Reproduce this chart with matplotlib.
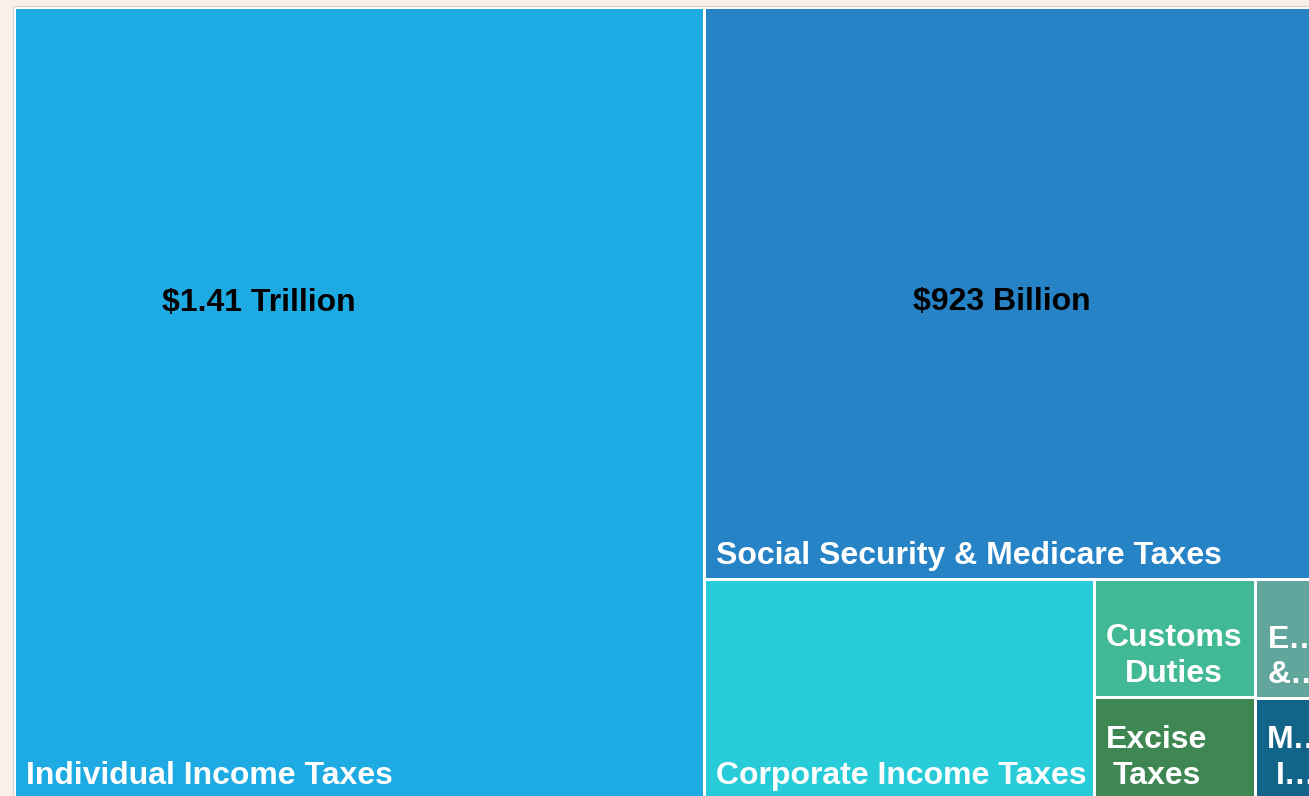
import matplotlib
matplotlib.use("Agg")
import matplotlib.pyplot as plt
from matplotlib.patches import Rectangle

# federal revenue by source, billions of dollars
sources = ["Individual Income Taxes", "Social Security & Medicare Taxes",
           "Corporate Income Taxes", "Customs Duties", "Excise Taxes",
           "Estate & Gift Taxes", "Miscellaneous Income"]
amounts = [1410, 923, 221, 49, 42.5, 22.5, 19]
# text drawn in each cell (small cells are wrapped / cut off)
cell_text = ["Individual Income Taxes", "Social Security & Medicare Taxes",
             "Corporate Income Taxes", "Customs\nDuties", "Excise\nTaxes",
             "E…\n&…", "M…\nI…"]
colors = ["#1eabe3", "#2683c6", "#28ccd8", "#42b995", "#3e8752", "#62a59d", "#126589"]

PHI = (1 + 5 ** 0.5) / 2


def squarify(values, x0, y0, x1, y1, ratio=PHI):
    # same row logic as d3.treemapSquarify
    rects = []
    total = float(sum(values))
    i0 = 0
    n = len(values)
    while i0 < n:
        dx, dy = x1 - x0, y1 - y0
        s = values[i0]
        i1 = i0 + 1
        mn = mx = s
        alpha = max(dy / dx, dx / dy) / (total * ratio)
        beta = s * s * alpha
        best = max(mx / beta, beta / mn)
        while i1 < n:
            v = values[i1]
            s2 = s + v
            mn2, mx2 = min(mn, v), max(mx, v)
            beta = s2 * s2 * alpha
            r = max(mx2 / beta, beta / mn2)
            if r > best:
                break
            s, mn, mx, best = s2, mn2, mx2, r
            i1 += 1
        row = values[i0:i1]
        if dx < dy:
            yb = y0 + dy * s / total
            xc = x0
            for v in row:
                w = dx * v / s
                rects.append((xc, y0, w, yb - y0))
                xc += w
            y0 = yb
        else:
            xb = x0 + dx * s / total
            yc = y0
            for v in row:
                h = dy * v / s
                rects.append((x0, yc, xb - x0, h))
                yc += h
            x0 = xb
        total -= s
        i0 = i1
    return rects


def money(v):
    if v >= 1000:
        return f"${v / 1000:.2f} Trillion"
    return f"${v:.0f} Billion"


W, H = 1309, 796
fig = plt.figure(figsize=(W / 100, H / 100), dpi=100, facecolor="#f9f0ea")
ax = fig.add_axes([0, 0, 1, 1])
ax.set_xlim(0, W)
ax.set_ylim(H, 0)
ax.axis("off")

# chart box (runs past the right and bottom edge of the picture)
bx0, by0, bw, bh = 14, 7, 1315, 792
ax.add_patch(Rectangle((bx0 - 1.5, by0 - 1.5), bw + 3, bh + 3, facecolor="white",
                       edgecolor="#d8d2ce", linewidth=0.9))

rects = squarify(amounts, bx0, by0, bx0 + bw, by0 + bh)
pad = 1.5
font = "Liberation Sans"
fs = 23

# where the dollar amount sits inside the two big cells (fraction of cell)
value_pos = {0: (0.355, 0.374), 1: (0.476, 0.515)}

for i, (x, y, w, h) in enumerate(rects):
    ax.add_patch(Rectangle((x + pad, y + pad), w - 2 * pad, h - 2 * pad,
                           facecolor=colors[i], edgecolor="none"))
    ax.text(x + 11.5, y + h - 15, cell_text[i], color="white", fontsize=fs,
            fontweight="bold", family=font, ha="left", va="baseline",
            multialignment="center", linespacing=1.25)
    if i in value_pos:
        fx, fy = value_pos[i]
        ax.text(x + fx * w, y + fy * h, money(amounts[i]), color="black",
                fontsize=fs, fontweight="bold", family=font,
                ha="center", va="center")

fig.savefig("out.png", dpi=100, facecolor=fig.get_facecolor())
